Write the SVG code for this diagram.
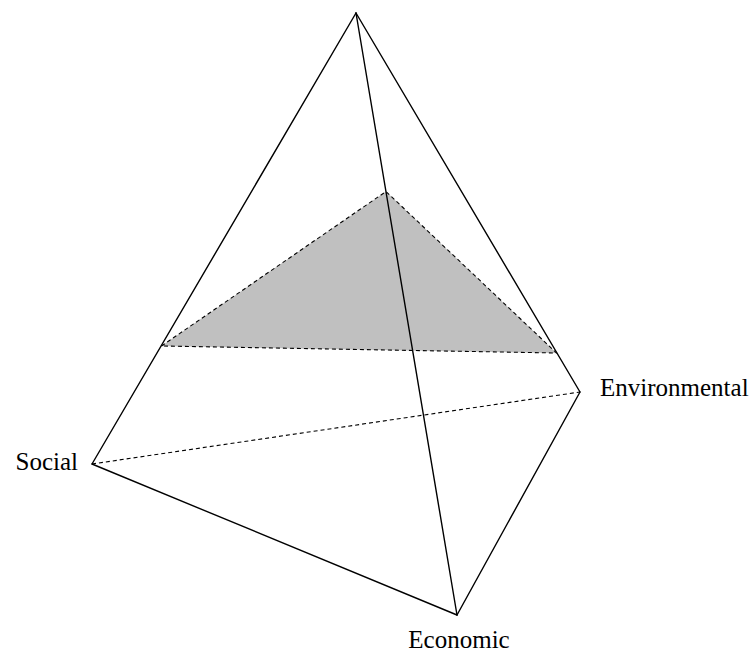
<svg xmlns="http://www.w3.org/2000/svg" width="750" height="652" viewBox="0 0 750 652">
<style>
.solid{stroke:#000;stroke-width:1.4;fill:none;stroke-linecap:round}
.dash{stroke:#000;stroke-width:1.1;fill:none;stroke-dasharray:4 3}
.lbl{font-family:"Liberation Serif","Times New Roman",serif;font-size:25px;fill:#000}
</style>
<rect width="750" height="652" fill="#fff"/>
<g id="section">
<polygon points="386,191.5 161.5,346 556.5,353" fill="#c0c0c0" stroke="none"/>
</g>
<g id="connectors">
<line class="dash" x1="92" y1="464" x2="580" y2="392"/>
<polyline class="dash" points="161.5,346 386,191.5 556.5,353 161.5,346"/>
<line class="solid" x1="356" y1="13" x2="92" y2="464"/>
<line class="solid" x1="356" y1="13" x2="580" y2="392"/>
<line class="solid" x1="356" y1="13" x2="457" y2="615"/>
<line class="solid" x1="92" y1="464" x2="457" y2="615"/>
<line class="solid" x1="457" y1="615" x2="580" y2="392"/>
</g>
<g id="social"><text class="lbl" x="78" y="470" text-anchor="end">Social</text></g>
<g id="economic"><text class="lbl" x="459" y="648" text-anchor="middle">Economic</text></g>
<g id="environmental"><text class="lbl" x="600" y="396">Environmental</text></g>
</svg>
